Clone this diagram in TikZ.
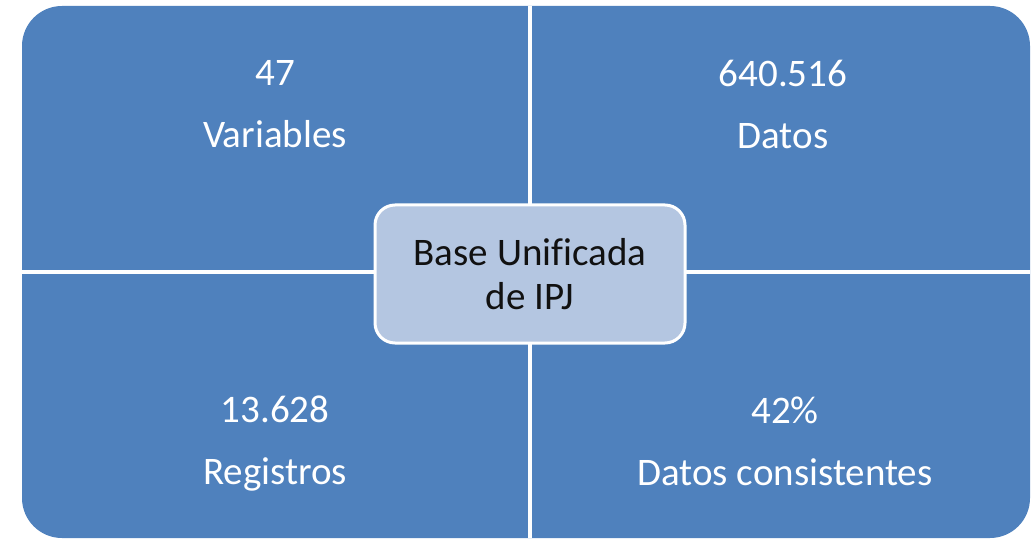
\documentclass[tikz,border=0pt]{standalone}
\usepackage{fontspec}
\setmainfont[Ligatures=NoCommon]{Carlito}
\usepackage{xcolor}
\usepackage{tikz}
\usetikzlibrary{positioning}

\definecolor{quadblue}{HTML}{4F81BD}
\definecolor{hubblue}{HTML}{B4C6E1}
\definecolor{hubtext}{HTML}{111111}

\begin{document}
\begin{tikzpicture}[x=1pt, y=1pt,
  quad/.style={fill=quadblue, rounded corners=40pt},
  gap/.style={draw=white, line width=4pt},
  lbl/.style={align=center, text=white, font=\fontsize{39}{62}\selectfont},
  hub/.style={draw=white, line width=3pt, fill=hubblue, rounded corners=20pt, align=center,
    minimum width=310pt, minimum height=138pt, text=hubtext, font=\fontsize{39}{44}\selectfont}
]
\useasboundingbox (0,0) rectangle (1032,544);
\fill[quad] (22,6) rectangle (1030,538);
\coordinate (top) at (530,538);
\coordinate (bot) at (530,6);
\coordinate (lft) at (22,272);
\coordinate (rgt) at (1030,272);
\draw[gap] (top) -- (bot);
\draw[gap] (lft) -- (rgt);

\node[lbl] (vars) at (275,440) {47\\Variables};
\node[lbl] (datos) at (783,440) {640.516\\Datos};
\node[lbl] (regs) at (275,100) {13.628\\Registros};
\node[lbl] (cons) at (785,103) {42\%\\Datos consistentes};

\node[hub] (base) at (530,270) {Base Unificada\\de IPJ};
\end{tikzpicture}
\end{document}
